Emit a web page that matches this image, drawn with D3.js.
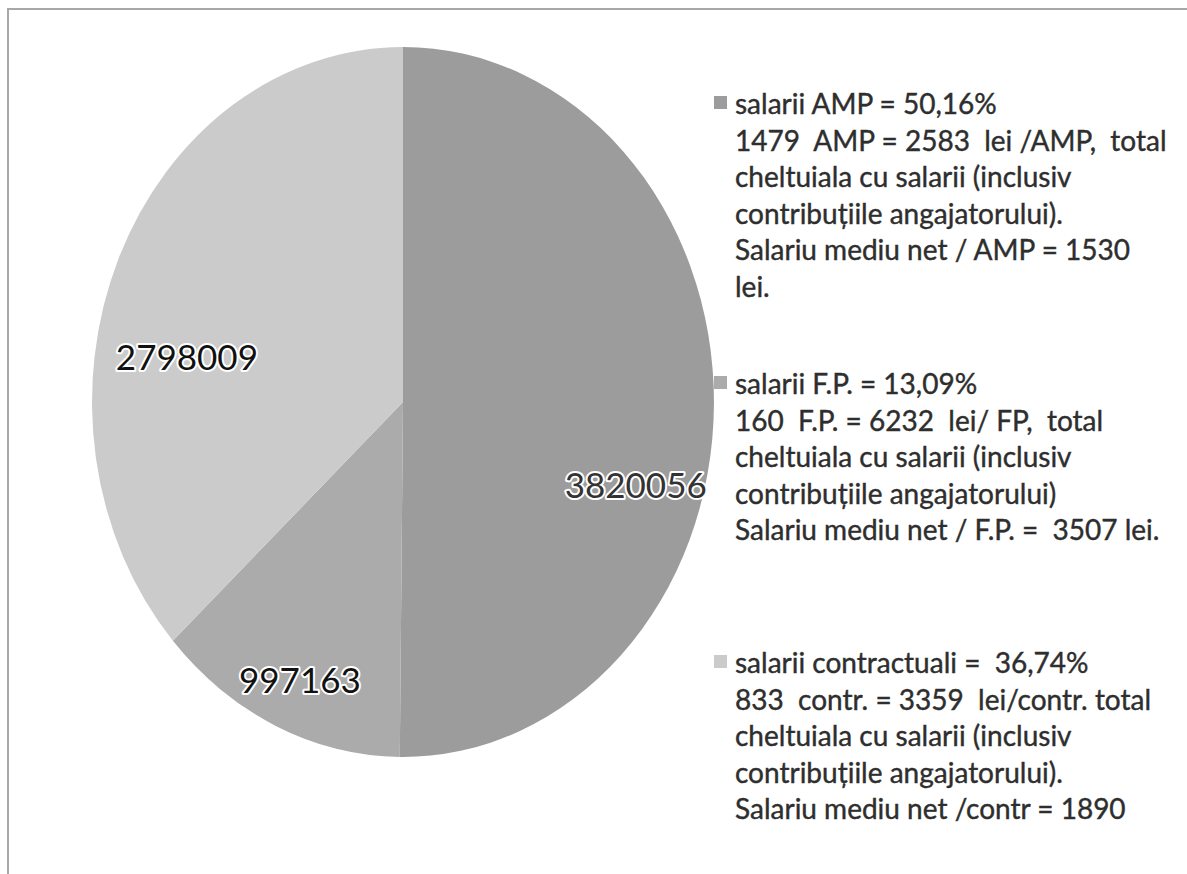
<!DOCTYPE html>
<html><head><meta charset="utf-8">
<script src="https://cdn.jsdelivr.net/npm/d3@7/dist/d3.min.js"></script>
<style>html,body{margin:0;padding:0;background:#fff;}</style>
</head><body>
<svg id="c" width="1187" height="874"></svg>
<script>
const categories = ["salarii AMP", "salarii F.P.", "salarii contractuali"];
const values = [3820056, 997163, 2798009];
const colors = ["#9c9c9c", "#ababab", "#cbcbcb"];
const legendLines = [
  ["salarii AMP = 50,16%", "1479  AMP = 2583  lei /AMP,  total", "cheltuiala cu salarii (inclusiv", "contribuțiile angajatorului).", "Salariu mediu net / AMP = 1530", "lei."],
  ["salarii F.P. = 13,09%", "160  F.P. = 6232  lei/ FP,  total", "cheltuiala cu salarii (inclusiv", "contribuțiile angajatorului)", "Salariu mediu net / F.P. =  3507 lei."],
  ["salarii contractuali =  36,74%", "833  contr. = 3359  lei/contr. total", "cheltuiala cu salarii (inclusiv", "contribuțiile angajatorului).", "Salariu mediu net /contr = 1890"]
];

const svg = d3.select("#c");
svg.append("rect").attr("x", 8).attr("y", 9).attr("width", 1300).attr("height", 1000)
  .attr("fill", "#fff").attr("stroke", "#a8a8a8").attr("stroke-width", 2);

const cx = 403, cy = 402, rx = 311, ry = 355;
const pie = d3.pie().sort(null).value(d => d)(values);
const arc = d3.arc().innerRadius(0).outerRadius(rx);
const g = svg.append("g").attr("transform", `translate(${cx},${cy}) scale(1,${ry/rx})`);
g.selectAll("path").data(pie).join("path")
  .attr("d", arc).attr("fill", (d, i) => colors[i]);

// data labels
const labelArc = d3.arc().innerRadius(rx * 0.7).outerRadius(rx * 0.7);
const labelShift = [[15, 81], [-14, 50], [-17, 55]];
svg.append("g").selectAll("text").data(pie).join("text")
  .attr("x", (d, i) => cx + labelArc.centroid(d)[0] + labelShift[i][0])
  .attr("y", (d, i) => cy + labelArc.centroid(d)[1] * ry / rx + labelShift[i][1])
  .attr("text-anchor", "middle").attr("dominant-baseline", "central")
  .attr("font-family", "Lato, 'Open Sans', sans-serif").attr("font-size", 35)
  .attr("fill", (d, i) => i === 0 ? "#333" : "#111")
  .attr("stroke", "#fff").attr("stroke-width", 4).attr("paint-order", "stroke")
  .attr("stroke-linejoin", "round")
  .text(d => d.data);

// legend
const legendTop = [103, 383, 662];
const lh = 36.5;
const lg = svg.append("g");
legendLines.forEach((lines, i) => {
  lg.append("rect").attr("x", 714).attr("y", legendTop[i] - 7).attr("width", 13).attr("height", 13)
    .attr("fill", colors[i]);
  lines.forEach((t, j) => {
    lg.append("text").attr("x", 735).attr("y", legendTop[i] + j * lh)
      .attr("dominant-baseline", "central")
      .attr("font-family", "Lato, 'Open Sans', sans-serif").attr("font-size", 28)
      .attr("fill", "#2e2e2e").attr("stroke", "#2e2e2e").attr("stroke-width", 0.4)
      .style("white-space", "pre")
      .text(t);
  });
});
</script>
</body></html>
